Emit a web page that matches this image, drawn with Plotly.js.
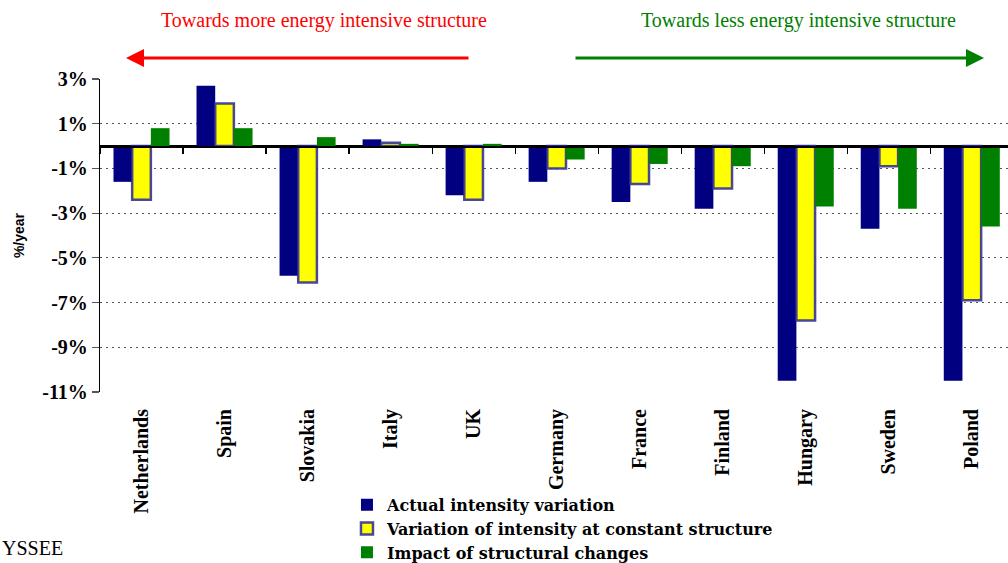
<!DOCTYPE html>
<html>
<head>
<meta charset="utf-8">
<script src="https://cdn.plot.ly/plotly-3.0.1.min.js"></script>
<style>html,body{margin:0;padding:0;background:#fff;}#chart{width:1008px;height:563px;}</style>
</head>
<body>
<div id="chart"></div>
<script>
var countries = ['Netherlands','Spain','Slovakia','Italy','UK','Germany','France','Finland','Hungary','Sweden','Poland'];
var actualIntensity = [-1.6, 2.7, -5.8, 0.3, -2.2, -1.6, -2.5, -2.8, -10.5, -3.7, -10.5];
var constantStructure = [-2.4, 1.9, -6.1, 0.15, -2.4, -1.0, -1.7, -1.9, -7.8, -0.9, -6.9];
var structuralChanges = [0.8, 0.8, 0.4, 0.1, 0.1, -0.6, -0.8, -0.9, -2.7, -2.8, -3.6];
var seriesNames = ['Actual intensity variation','Variation of intensity at constant structure','Impact of structural changes'];
var yTickVals = [3, 1, -1, -3, -5, -7, -9, -11];
var yTickText = ['3%','1%','-1%','-3%','-5%','-7%','-9%','-11%'];
var boundaryTicks = [-0.5, 0.5, 1.5, 2.5, 3.5, 4.5, 5.5, 6.5, 7.5, 8.5, 9.5, 10.5];

var SERIF = '"Liberation Serif", "Times New Roman", Times, serif';
function serif(size, bold, color) {
  return {family: SERIF, size: size, color: color || '#000', weight: bold ? 'bold' : 'normal'};
}

var traces = [
  {type: 'bar', name: seriesNames[0], x: countries, y: actualIntensity,
   marker: {color: '#000080', line: {width: 0}}},
  {type: 'bar', name: seriesNames[1], x: countries, y: constantStructure,
   marker: {color: '#ffff00', line: {color: 'rgba(40,40,150,0.85)', width: 2.5}}},
  {type: 'bar', name: seriesNames[2], x: countries, y: structuralChanges,
   marker: {color: '#008000', line: {width: 0}}},
  {type: 'scatter', x: [], y: [], xaxis: 'x2', showlegend: false, hoverinfo: 'skip'}
];

var xr = [-0.5, 10.436];
var layout = {
  width: 1008, height: 563,
  margin: {l: 100, r: 0, t: 79, b: 171, pad: 0, autoexpand: false},
  paper_bgcolor: '#fff', plot_bgcolor: '#fff',
  font: {family: SERIF},
  barmode: 'group', bargap: 0.325, bargroupgap: 0,
  showlegend: true,
  legend: {x: 0.272, xanchor: 'left', y: -0.306, yanchor: 'top', orientation: 'v',
           font: {family: '"DejaVu Serif", "Liberation Serif", serif', size: 16, color: '#000', weight: 'bold'},
           bgcolor: 'rgba(0,0,0,0)', tracegroupgap: 0, itemwidth: 30},
  xaxis: {type: 'category', range: xr, showgrid: false, zeroline: false, showline: false,
          ticks: '', tickangle: -90, ticklabelstandoff: 12,
          tickfont: serif(20, true)},
  xaxis2: {overlaying: 'x', anchor: 'free', position: 11/14, side: 'bottom', range: xr,
           showgrid: false, zeroline: false, showline: true, linecolor: '#000', linewidth: 1.5,
           ticks: 'outside', ticklen: 6, tickwidth: 1.2, tickcolor: '#000',
           tickmode: 'array', tickvals: boundaryTicks, showticklabels: false},
  yaxis: {range: [-11, 3], tickmode: 'array', tickvals: yTickVals, ticktext: yTickText,
          showgrid: true, gridcolor: '#555', gridwidth: 1, griddash: '2px,4px',
          zeroline: true, zerolinecolor: '#000', zerolinewidth: 1.5,
          showline: true, linecolor: '#000', linewidth: 1.2,
          ticks: 'outside', ticklen: 7, tickcolor: '#555', tickwidth: 1.2,
          tickfont: serif(20, true),
          title: {text: '%/year', standoff: 14,
                  font: {family: '"Liberation Sans", Arial, sans-serif', size: 14, color: '#000', weight: 'bold'}}},
  annotations: [
    {xref: 'paper', yref: 'paper', x: (324 - 100) / 908, y: (392 - 20) / 313, xanchor: 'center', yanchor: 'middle',
     text: 'Towards more energy intensive structure', showarrow: false, font: serif(20, false, '#ff0000')},
    {xref: 'paper', yref: 'paper', x: (798 - 100) / 908, y: (392 - 20) / 313, xanchor: 'center', yanchor: 'middle',
     text: 'Towards less energy intensive structure', showarrow: false, font: serif(20, false, '#008000')},
    {xref: 'paper', yref: 'paper', x: (126 - 100) / 908, y: (392 - 58) / 313, text: '',
     showarrow: true, ax: 344, ay: 0, arrowhead: 2, arrowsize: 1.2, arrowwidth: 3, arrowcolor: '#ff0000', standoff: 0},
    {xref: 'paper', yref: 'paper', x: (984 - 100) / 908, y: (392 - 58) / 313, text: '',
     showarrow: true, ax: -410, ay: 0, arrowhead: 2, arrowsize: 1.2, arrowwidth: 3, arrowcolor: '#008000', standoff: 0},
    {xref: 'paper', yref: 'paper', x: (0 - 100) / 908, y: (392 - 548) / 313, xanchor: 'left', yanchor: 'middle',
     text: 'YSSEE', showarrow: false, font: serif(20, false)}
  ]
};

Plotly.newPlot('chart', traces, layout, {displayModeBar: false, staticPlot: true});
</script>
</body>
</html>
